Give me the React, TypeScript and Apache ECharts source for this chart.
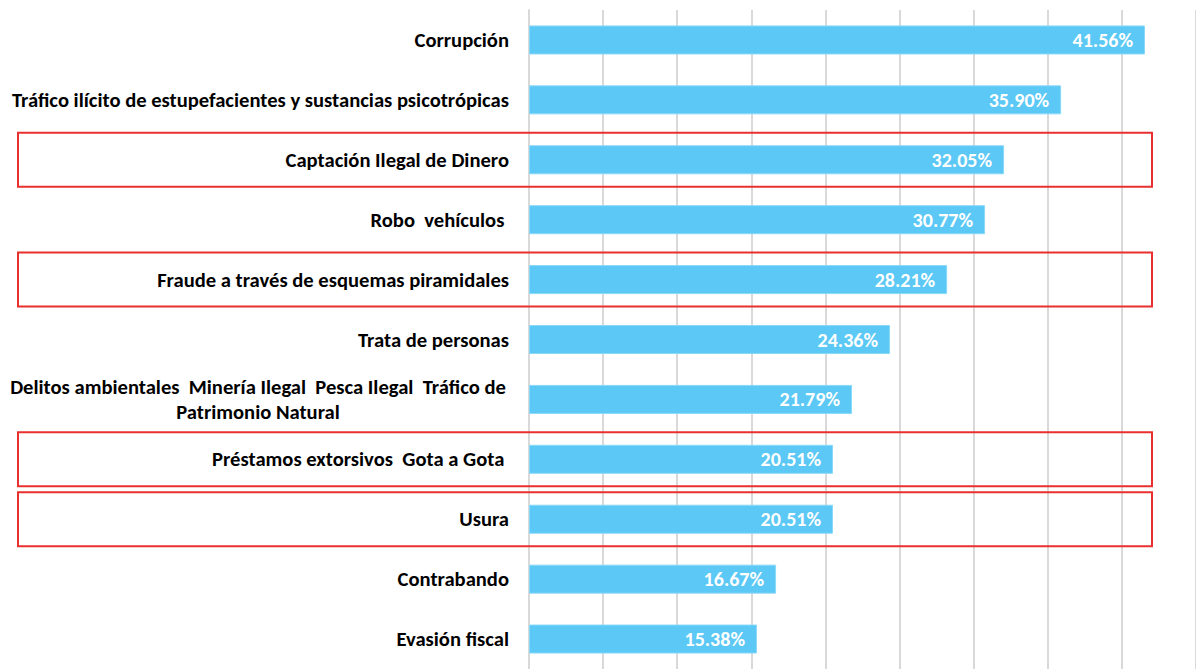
import React, { useEffect, useRef } from "react";
import * as echarts from "echarts";

const categories = [
  "Corrupción",
  "Tráfico ilícito de estupefacientes y sustancias psicotrópicas",
  "Captación Ilegal de Dinero",
  "Robo  vehículos ",
  "Fraude a través de esquemas piramidales",
  "Trata de personas",
  "Delitos ambientales  Minería Ilegal  Pesca Ilegal  Tráfico de\nPatrimonio Natural",
  "Préstamos extorsivos  Gota a Gota ",
  "Usura",
  "Contrabando",
  "Evasión fiscal",
];
const values = [41.56, 35.9, 32.05, 30.77, 28.21, 24.36, 21.79, 20.51, 20.51, 16.67, 15.38];
const highlightedRows = [2, 4, 7, 8];
const axisMin = 0;
const axisMax = 45;
const axisInterval = 5;

const FONT = "Carlito, Lato, 'Open Sans', sans-serif";
const FS = 20.6;
const VFS = 20;

export default function App() {
  const ref = useRef<HTMLDivElement>(null);
  useEffect(() => {
    if (!ref.current) return;
    const chart = echarts.init(ref.current, null, { renderer: "svg" });
    chart.setOption({
      animation: false,
      backgroundColor: "#ffffff",
      grid: { left: 529, right: 0, top: 10, bottom: -5, containLabel: false },
      xAxis: {
        type: "value",
        min: axisMin,
        max: axisMax,
        interval: axisInterval,
        axisLabel: { show: false },
        axisLine: { show: false },
        axisTick: { show: false },
        splitLine: { show: true, lineStyle: { color: "#d9d9d9", width: 2 } },
      },
      yAxis: {
        type: "category",
        inverse: true,
        data: categories,
        axisTick: { show: false },
        axisLine: { show: true, lineStyle: { color: "#d9d9d9", width: 2 } },
        axisLabel: {
          margin: 20,
          color: "#000",
          fontFamily: FONT,
          fontWeight: "bold",
          fontSize: FS,
          lineHeight: 25,
          formatter: (v: string) => {
            if (v.indexOf("\n") >= 0) {
              return v
                .split("\n")
                .map((l) => "{c|" + l + "}")
                .join("\n");
            }
            return v;
          },
          rich: {
            c: {
              width: 502,
              align: "center",
              color: "#000",
              fontFamily: FONT,
              fontWeight: "bold",
              fontSize: FS,
              lineHeight: 25,
            },
          },
        },
      },
      series: [
        {
          type: "bar",
          data: values,
          barWidth: 29,
          itemStyle: { color: "#5BC8F5", borderColor: "#8ad8f8", borderWidth: 1 },
          label: {
            show: true,
            position: "insideRight",
            distance: 12,
            color: "#ffffff",
            fontFamily: FONT,
            fontWeight: "bold",
            fontSize: VFS,
            formatter: (p: any) => Number(p.value).toFixed(2) + "%",
          },
        },
      ],
    });

    const boxLeft = 18;
    const boxRight = 1152;
    const boxHalf = 27;
    const graphics = highlightedRows.map((i) => {
      const y = chart.convertToPixel({ yAxisIndex: 0 }, categories[i]) as number;
      return {
        type: "rect",
        shape: { x: boxLeft, y: y - boxHalf, width: boxRight - boxLeft, height: boxHalf * 2 },
        style: { fill: "none", stroke: "#E8302E", lineWidth: 2 },
        z: 100,
      };
    });
    chart.setOption({ graphic: graphics });

    return () => chart.dispose();
  }, []);
  return (
    <div
      ref={ref}
      style={{ position: "fixed", left: 0, top: 0, width: 1196, height: 669 }}
    />
  );
}
